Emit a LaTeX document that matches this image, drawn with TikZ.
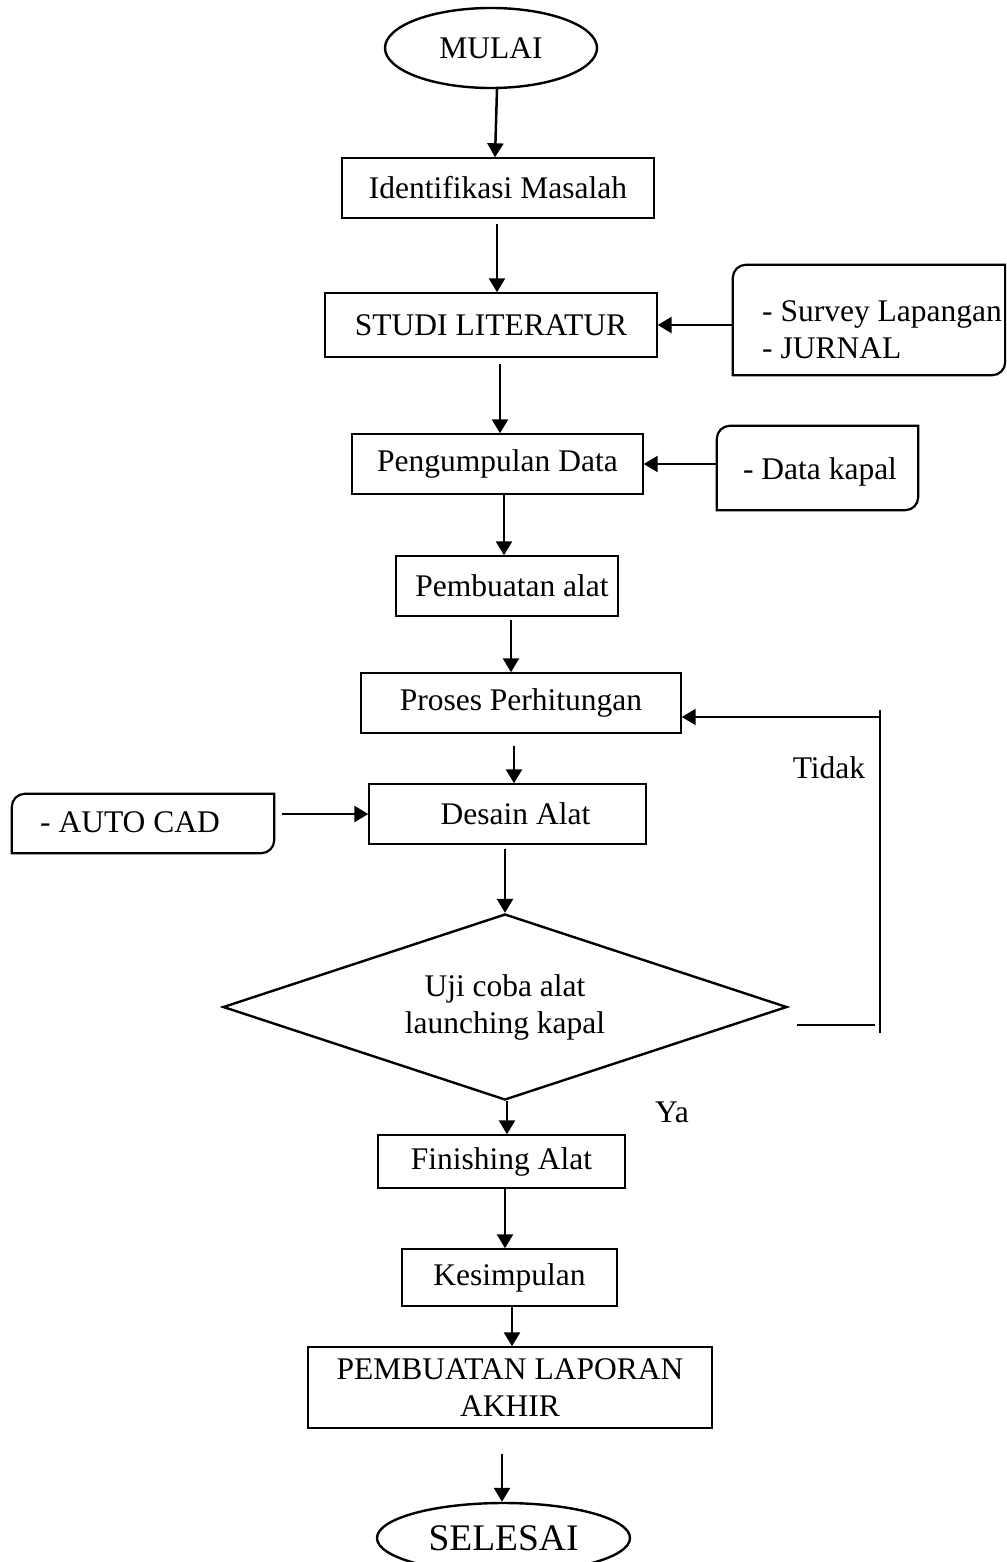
\documentclass[tikz,border=0pt]{standalone}
\usepackage{fontspec}
\setmainfont{Liberation Serif}
\usetikzlibrary{shapes.geometric,arrows.meta}
\newcommand\sideframe[1]{%
  \draw[sideline] ([yshift=-13pt]#1.north west) -- (#1.south west)
    -- ([xshift=-13pt]#1.south east) arc[start angle=270,end angle=360,radius=13pt]
    -- (#1.north east) -- ([xshift=13pt]#1.north west)
    arc[start angle=90,end angle=180,radius=13pt] -- cycle;}
\begin{document}
\begin{tikzpicture}[x=1pt,y=1pt,
  every node/.style={font=\fontsize{31.5}{37}\selectfont},
  box/.style={draw, line width=1.4pt, inner sep=0pt, align=center},
  term/.style={draw, ellipse, line width=2.4pt, inner sep=0pt},
  decision/.style={draw, diamond, aspect=3.1, line width=2.4pt, inner sep=0pt, align=center},
  sidebox/.style={inner sep=0pt},
  sideline/.style={line width=2.2pt},
  arr/.style={line width=2.5pt, -{Triangle[length=14pt,width=16pt]}},
  plain/.style={line width=2.2pt},
  lbl/.style={inner sep=0pt}]
\useasboundingbox (0,0) rectangle (1006,-1562);
\clip (0,0) rectangle (1006,-1562);

% main column
\node[term, minimum width=212pt, minimum height=80pt] (start) at (491,-48) {MULAI};
\node[box, minimum width=312pt, minimum height=60pt] (ident) at (498,-188) {Identifikasi Masalah};
\node[box, minimum width=332pt, minimum height=64pt] (studi) at (491,-325) {STUDI LITERATUR};
\node[box, minimum width=291pt, minimum height=60pt] (pengum) at (497.5,-464) {Pengumpulan Data};
\node[box, minimum width=222pt, minimum height=60pt] (pemb) at (507,-586) {\hspace*{10pt}Pembuatan alat};
\node[box, minimum width=320pt, minimum height=60pt] (proses) at (521,-703) {Proses Perhitungan};
\node[box, minimum width=277pt, minimum height=60pt] (desain) at (507.5,-814) {\hspace*{16pt}Desain Alat};
\node[decision, minimum width=564pt, minimum height=186pt] (dia) at (505,-1007) {Uji coba alat\\launching kapal};
\node[box, minimum width=247pt, minimum height=53pt] (fin) at (501.5,-1161.5) {Finishing Alat};
\node[box, minimum width=215pt, minimum height=57pt] (kes) at (509.5,-1277.5) {Kesimpulan};
\node[box, minimum width=404pt, minimum height=81pt] (lap) at (510,-1387.5) {PEMBUATAN LAPORAN\\AKHIR};
\node[term, minimum width=253pt, minimum height=70pt, font=\fontsize{37.5}{44}\selectfont] (end) at (503.5,-1538) {SELESAI};

% side boxes
\node[sidebox, minimum width=272pt, minimum height=110pt] (sv) at (869,-320) {};
\sideframe{sv}
\node[lbl, anchor=west, align=left] (svt) at (762,-330) {- Survey Lapangan\\- JURNAL};
\node[sidebox, minimum width=201pt, minimum height=84pt] (dk) at (817.5,-468) {};
\sideframe{dk}
\node[lbl] (dkt) at (820,-472) {- Data kapal};
\node[sidebox, minimum width=262pt, minimum height=59pt] (ac) at (143,-823.5) {};
\sideframe{ac}
\node[lbl] (act) at (130,-822) {- AUTO CAD};

% labels
\node[lbl] (tidak) at (829,-768) {Tidak};
\node[lbl] (ya) at (672,-1112) {Ya};

% main arrows
\draw[arr] (start.south -| 497,0) -- (ident.north -| 495,0);
\draw[arr, shorten <=5pt] (ident.south -| 497,0) -- (studi.north -| 497,0);
\draw[arr, shorten <=6pt] (studi.south -| 500,0) -- (pengum.north -| 500,0);
\draw[arr] (pengum.south -| 504,0) -- (pemb.north -| 504,0);
\draw[arr, shorten <=3pt] (pemb.south -| 511,0) -- (proses.north -| 511,0);
\draw[arr, shorten <=12pt] (proses.south -| 514,0) -- (desain.north -| 514,0);
\draw[arr, shorten <=4pt] (desain.south -| dia.north) -- (dia.north);
\draw[arr] (dia.south -| 507,0) -- (fin.north -| 507,0);
\draw[arr] (fin.south -| 505,0) -- (kes.north -| 505,0);
\draw[arr] (kes.south -| 512,0) -- (lap.north -| 512,0);
\draw[arr, shorten <=25pt] (lap.south -| 502,0) -- (end.north -| 502,0);

% side arrows
\draw[arr] (sv.west |- studi.east) -- (studi.east);
\draw[arr] (dk.west |- pengum.east) -- (pengum.east);
\draw[arr, shorten <=8pt] (ac.east |- desain.west) -- (desain.west);

% loop back (Tidak)
\coordinate (lt) at (880,-710);
\coordinate (lb) at (880,-1033);
\coordinate (la) at (880,-717);
\coordinate (h1) at (797,-1025);
\coordinate (h2) at (875,-1025);
\draw[plain] (h1) -- (h2);
\draw[plain] (lt) -- (lb);
\draw[arr, line width=2pt] (la) -- (la -| proses.east);
\end{tikzpicture}
\end{document}
